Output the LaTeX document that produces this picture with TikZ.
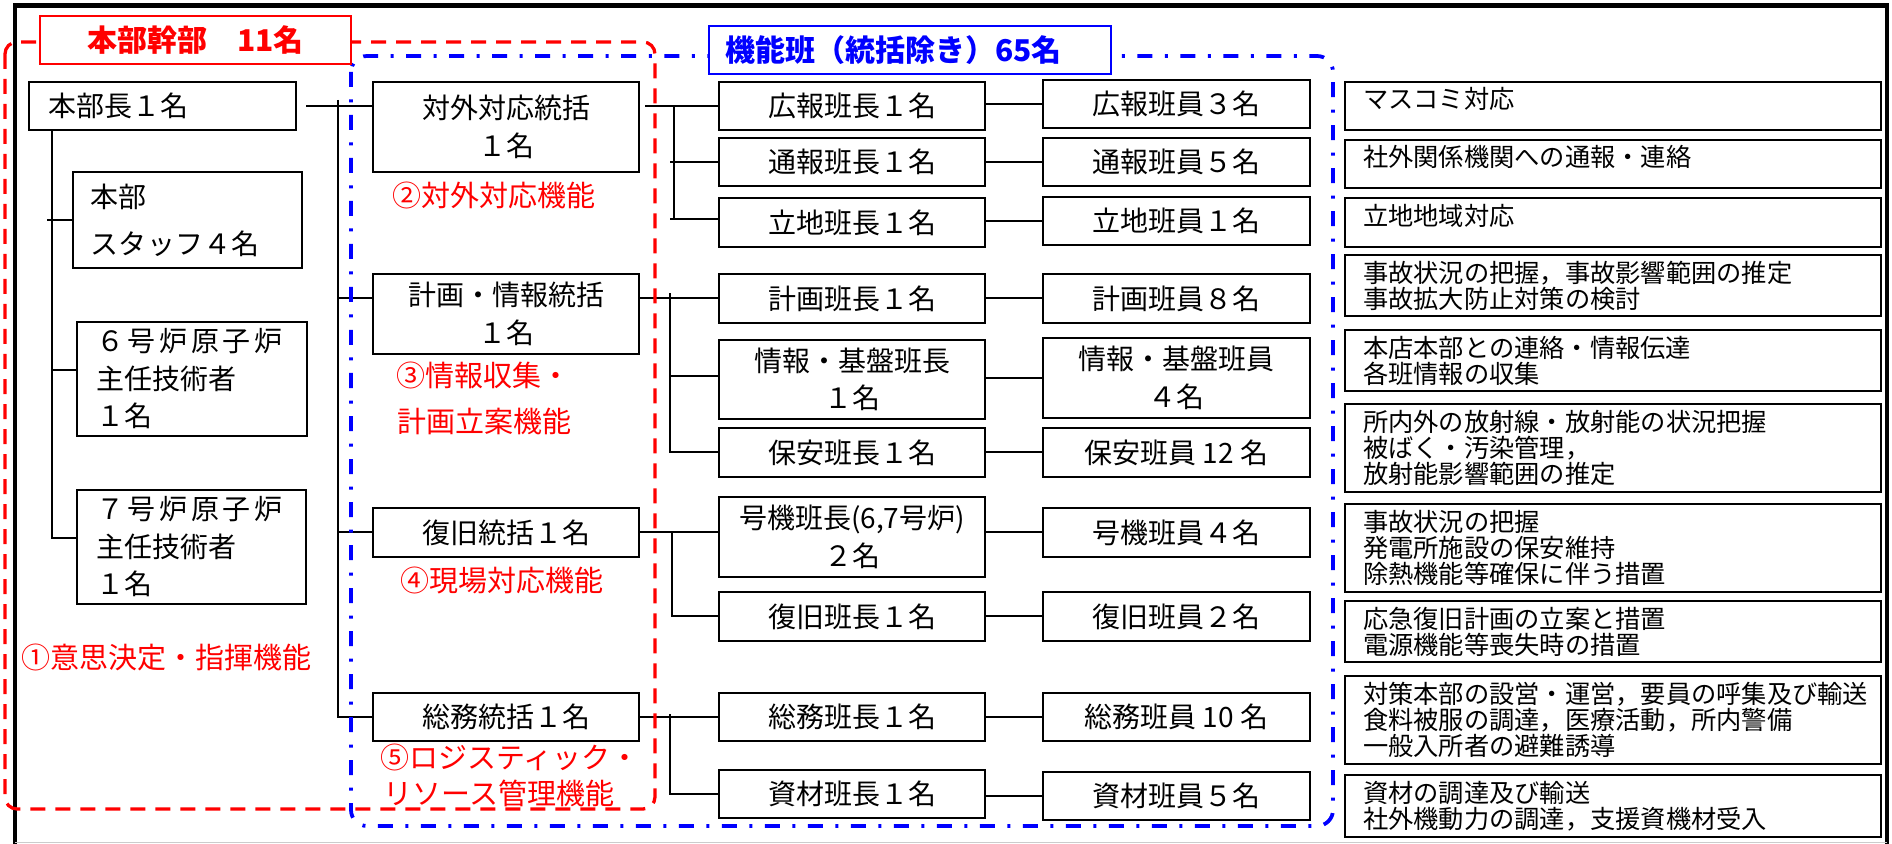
\documentclass[tikz,border=0pt]{standalone}
\usepackage{fontspec}
\setmainfont{Noto Sans CJK JP}
\definecolor{rd}{RGB}{255,0,0}
\definecolor{bl}{RGB}{0,0,255}
\tikzset{
  bx/.style={draw, line width=0.85pt, inner sep=0pt, align=center,
    font=\fontsize{11.2pt}{15pt}\selectfont},
  lbx/.style={bx, align=left, inner xsep=7.6pt},
  ldr/.style={bx, minimum width=106.4pt},
  mbr/.style={bx, minimum width=106.8pt},
  dbx/.style={draw, line width=0.85pt, inner xsep=7.2pt, inner ysep=0pt,
    text width=200pt, align=left, font=\fontsize{10.1pt}{10.4pt}\selectfont},
  one/.style={text height=8.9pt, text depth=6.8pt},
  ln/.style={line width=0.8pt},
  lab/.style={text=rd, anchor=west, inner sep=0pt,
    font=\fontsize{11.6pt}{14pt}\selectfont},
  ttl/.style={line width=0.8pt, fill=white, inner sep=0pt, minimum height=19.2pt,
    font=\fontsize{12pt}{14pt}\selectfont\bfseries},
  reddash/.style={rd, line width=1.3pt, dash pattern=on 6pt off 4pt, rounded corners=4.8pt},
  bluedash/.style={bl, line width=1.5pt, dash pattern=on 6pt off 5pt on 1.2pt off 5pt, rounded corners=6.4pt}
}
\begin{document}
\begin{tikzpicture}[x=0.4pt,y=-0.4pt]
\useasboundingbox (0,0) rectangle (1892,844);
\fill[white] (0,0) rectangle (1892,844);
% outer frame
\draw[line width=1.8pt, line join=miter] (15,844) -- (15,5.5) -- (1887,5.5) -- (1887,844);
\draw[black!20, line width=0.6pt] (15,842.5) -- (1887,842.5);

% left column
\node[lbx, text width=91.6pt, minimum height=19.2pt] (hq) at (162.5,106) {本部長１名};
\node[lbx, inner xsep=7.2pt, text width=77.2pt, minimum height=38.4pt,
      font=\fontsize{11.2pt}{18.8pt}\selectfont] (staff) at (187.5,220) {本部\\スタッフ４名};
\node[lbx, text width=76.8pt, minimum height=45.6pt] (g6) at (192,379)
  {６\kern1.5pt 号\kern1.5pt 炉\kern1.5pt 原\kern1.5pt 子\kern1.5pt 炉\\主任技術者\\１名};
\node[lbx, text width=76.4pt, minimum height=45.6pt] (g7) at (191.5,547)
  {７\kern1.5pt 号\kern1.5pt 炉\kern1.5pt 原\kern1.5pt 子\kern1.5pt 炉\\主任技術者\\１名};

% coordinators
\node[bx, minimum width=106.4pt, minimum height=36pt] (c1) at (506,127) {対外対応統括\\１名};
\node[bx, minimum width=106.4pt, minimum height=32pt] (c2) at (506,314) {計画・情報統括\\１名};
\node[bx, minimum width=106.4pt, minimum height=19.6pt] (c3) at (506,532.5) {復旧統括１名};
\node[bx, minimum width=106.4pt, minimum height=19.2pt] (c4) at (506,717) {総務統括１名};

% leaders
\node[ldr, minimum height=19.2pt] (l1) at (852,106) {広報班長１名};
\node[ldr, minimum height=19.2pt] (l2) at (852,162) {通報班長１名};
\node[ldr, minimum height=19.6pt] (l3) at (852,222.5) {立地班長１名};
\node[ldr, minimum height=19.6pt] (l4) at (852,298.5) {計画班長１名};
\node[ldr, minimum height=31.6pt] (l5) at (852,379.5) {情報・基盤班長\\１名};
\node[ldr, minimum height=19.6pt] (l6) at (852,452.5) {保安班長１名};
\node[ldr, minimum height=32pt] (l7) at (852,537) {号機班長(6,7号炉)\\２名};
\node[ldr, minimum height=19.6pt] (l8) at (852,616.5) {復旧班長１名};
\node[ldr, minimum height=19.2pt] (l9) at (852,717) {総務班長１名};
\node[ldr, minimum height=19.2pt] (l10) at (852,794) {資材班長１名};

% members
\node[mbr, minimum height=19.2pt] (m1) at (1176.5,104) {広報班員３名};
\node[mbr, minimum height=19.2pt] (m2) at (1176.5,162) {通報班員５名};
\node[mbr, minimum height=19.2pt] (m3) at (1176.5,221) {立地班員１名};
\node[mbr, minimum height=19.6pt] (m4) at (1176.5,298.5) {計画班員８名};
\node[mbr, minimum height=32pt] (m5) at (1176.5,378) {情報・基盤班員\\４名};
\node[mbr, minimum height=19.6pt] (m6) at (1176.5,452.5) {保安班員 12 名};
\node[mbr, minimum height=19.6pt] (m7) at (1176.5,532.5) {号機班員４名};
\node[mbr, minimum height=19.6pt] (m8) at (1176.5,616.5) {復旧班員２名};
\node[mbr, minimum height=19.2pt] (m9) at (1176.5,717) {総務班員 10 名};
\node[mbr, minimum height=19.2pt] (m10) at (1176.5,796) {資材班員５名};

% descriptions
\node[dbx, one, minimum height=19.2pt] (d1) at (1613,106) {マスコミ対応};
\node[dbx, one, minimum height=19.2pt] (d2) at (1613,164) {社外関係機関への通報・連絡};
\node[dbx, one, minimum height=19.6pt] (d3) at (1613,222.5) {立地地域対応};
\node[dbx, minimum height=24.4pt] (d4) at (1613,285.5) {事故状況の把握，事故影響範囲の推定\\事故拡大防止対策の検討};
\node[dbx, minimum height=24.4pt] (d5) at (1613,360.5) {本店本部との連絡・情報伝達\\各班情報の収集};
\node[dbx, minimum height=35.2pt] (d6) at (1613,448) {所内外の放射線・放射能の状況把握\\被ばく・汚染管理，\\放射能影響範囲の推定};
\node[dbx, minimum height=35.2pt] (d7) at (1613,548) {事故状況の把握\\発電所施設の保安維持\\除熱機能等確保に伴う措置};
\node[dbx, minimum height=24.4pt] (d8) at (1613,631.5) {応急復旧計画の立案と措置\\電源機能等喪失時の措置};
\node[dbx, minimum height=35.2pt] (d9) at (1613,720) {対策本部の設営・運営，要員の呼集及び輸送\\食料被服の調達，医療活動，所内警備\\一般入所者の避難誘導};
\node[dbx, minimum height=24.8pt] (d10) at (1613,806) {資材の調達及び輸送\\社外機動力の調達，支援資機材受入};

% connectors: left tree
\draw[ln] ([xshift=9.6pt]hq.south west) |- ([yshift=3.6pt]g7.west);
\draw[ln] (staff.west) -- ++(-25,0);
\draw[ln] ([yshift=3.6pt]g6.west) -- ++(-24,0);
% head -> coordinators
\draw[ln] ([xshift=3.6pt]hq.east) -- (c1.west |- hq.east);
\draw[ln] (c1.west |- hq.east) ++(-34,-6) |- (c4.west);
\draw[ln] ([yshift=6.4pt]c2.west) -- ++(-34,0);
\draw[ln] (c3.west) -- ++(-34,0);
% c1 group
\draw[ln] (l1.west) -- ++(-73,0);
\draw[ln] (l1.west) ++(-44,0) |- ([yshift=1.4pt]l3.west);
\draw[ln] (l2.west) -- ++(-48,0);
\draw[ln] ([yshift=1.4pt]l3.west) -- ++(-48,0);
% c2 group
\draw[ln] (c2.east |- l4.west) -- (l4.west);
\draw[ln] (l4.west) ++(-48,-5) |- (l6.west);
\draw[ln] ([yshift=1.4pt]l5.west) -- ++(-48,0);
% c3 group
\draw[ln] (c3.east) -- (c3.east -| l7.west);
\draw[ln] (c3.east -| l7.west) ++(-46,0) |- (l8.west);
% c4 group
\draw[ln] (c4.east) -- (l9.west);
\draw[ln] (l9.west) ++(-48,-3) |- (l10.west);
% leaders -> members
\foreach \i in {1,...,10} \draw[ln] (m\i.west -| l\i.east) -- (m\i.west);

% function labels
\node[lab] (f2) at (392,195) {②対外対応機能};
\node[lab] (f3a) at (396,375) {③情報収集・};
\node[lab] (f3b) at (397,421) {計画立案機能};
\node[lab] (f4) at (400,580) {④現場対応機能};
\node[lab] (f5a) at (380,757) {⑤ロジスティック・};
\node[lab] (f5b) at (383,793) {リソース管理機能};
\node[lab] (f1) at (21,657) {①意思決定・指揮機能};

% group outlines
\draw[bluedash] (351,56) rectangle (1333,826);
\draw[reddash] (5,42) rectangle (655,809);

% titles
\node[ttl, draw=rd, text=rd, minimum width=124.4pt] (tR) at (195.5,40) {本部幹部　11名};
\node[ttl, draw=bl, text=bl, inner xsep=6.4pt, text width=148pt, align=left] (tB) at (910,50) {機能班（統括除き）65名};
\end{tikzpicture}
\end{document}
